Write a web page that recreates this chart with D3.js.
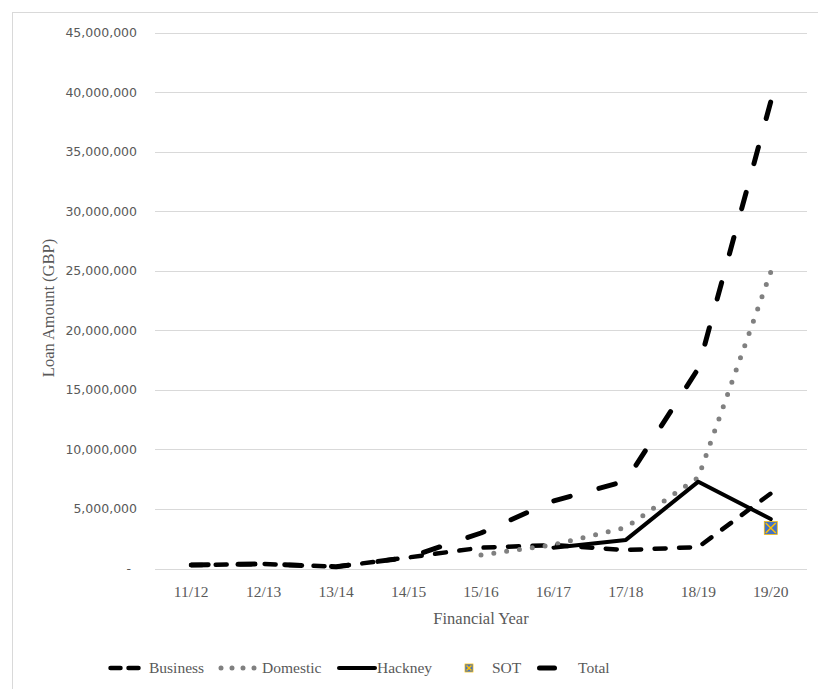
<!DOCTYPE html>
<html>
<head>
<meta charset="utf-8">
<script src="https://cdn.jsdelivr.net/npm/d3@7"></script>
<style>
  body { margin: 0; background: #fff; }
  svg { display: block; }
</style>
</head>
<body>
<svg></svg>
<script>
// financial years on the x axis
const years = ['11/12', '12/13', '13/14', '14/15', '15/16', '16/17', '17/18', '18/19', '19/20'];

// loan amounts (GBP), null = no value
const business = [290000, 380000, 150000, 930000, 1750000, 1970000, 1550000, 1800000, 6300000];
const domestic = [null, null, null, null, 1130000, 2000000, 3450000, 7650000, 24900000];
const hackney  = [null, null, null, null, null, 1750000, 2400000, 7290000, 4150000];
const sot      = [null, null, null, null, null, null, null, null, 3400000];
const total    = [290000, 380000, 150000, 930000, 2980000, 5670000, 7350000, 16800000, 39200000];

const yTicks = [0, 5e6, 10e6, 15e6, 20e6, 25e6, 30e6, 35e6, 40e6, 45e6];

const W = 818, H = 689;
const plot = {l: 155, r: 807, t: 32.5, b: 568.5};

const svg = d3.select('svg')
    .attr('width', W)
    .attr('height', H);

// chart frame (runs off the bottom/right of the picture)
svg.append('rect')
    .attr('x', 12.5).attr('y', 12.5)
    .attr('width', W + 20).attr('height', H + 20)
    .attr('fill', 'none')
    .attr('stroke', '#d9d9d9');

const x = d3.scalePoint()
    .domain(years)
    .range([plot.l, plot.r])
    .padding(0.5);

const y = d3.scaleLinear()
    .domain([0, 45e6])
    .range([plot.b, plot.t]);

// gridlines
svg.append('g')
    .selectAll('line')
    .data(yTicks)
    .join('line')
    .attr('x1', plot.l).attr('x2', plot.r)
    .attr('y1', d => Math.round(y(d)) + 0.5)
    .attr('y2', d => Math.round(y(d)) + 0.5)
    .attr('stroke', '#d9d9d9')
    .attr('stroke-width', 1);

// y tick labels
const fmt = d3.format(',');
svg.append('g')
    .selectAll('text')
    .data(yTicks)
    .join('text')
    .attr('x', d => d === 0 ? 131 : 137)
    .attr('y', d => y(d))
    .attr('dy', '0.36em')
    .attr('text-anchor', 'end')
    .attr('font-family', 'DejaVu Sans, sans-serif')
    .attr('font-size', 12.5)
    .attr('fill', '#595959')
    .text(d => d === 0 ? '-' : fmt(d));

// x tick labels
svg.append('g')
    .selectAll('text')
    .data(years)
    .join('text')
    .attr('x', d => x(d))
    .attr('y', 597)
    .attr('text-anchor', 'middle')
    .attr('font-family', 'Liberation Serif, serif')
    .attr('font-size', 15.5)
    .attr('fill', '#595959')
    .text(d => d);

// axis titles
svg.append('text')
    .attr('x', (plot.l + plot.r) / 2)
    .attr('y', 624)
    .attr('text-anchor', 'middle')
    .attr('font-family', 'Liberation Serif, serif')
    .attr('font-size', 16.5)
    .attr('fill', '#595959')
    .text('Financial Year');

svg.append('text')
    .attr('transform', 'translate(54, 308) rotate(-90)')
    .attr('text-anchor', 'middle')
    .attr('font-family', 'Liberation Serif, serif')
    .attr('font-size', 16.5)
    .attr('fill', '#595959')
    .text('Loan Amount (GBP)');

// series styles: dash = visible dash length (before caps), period = dash + gap
const styles = {
    Business: {color: '#000', width: 4.5, dash: 11, period: 24},
    Domestic: {color: '#808080', width: 5, dash: 0, period: 13},
    Hackney:  {color: '#000', width: 4, dash: null},
    Total:    {color: '#000', width: 5, dash: 17, period: 46}
};

const series = [
    {name: 'Business', values: business},
    {name: 'Domestic', values: domestic},
    {name: 'Hackney', values: hackney},
    {name: 'Total', values: total}
];

const line = d3.line()
    .defined(d => d.v != null)
    .x(d => x(d.year))
    .y(d => y(d.v));

const linesG = svg.append('g');
series.forEach(s => {
    const st = styles[s.name];
    const pts = s.values.map((v, i) => ({year: years[i], v: v}));
    const path = linesG.append('path')
        .datum(pts)
        .attr('fill', 'none')
        .attr('stroke', st.color)
        .attr('stroke-width', st.width)
        .attr('stroke-linecap', 'round')
        .attr('stroke-linejoin', 'round')
        .attr('d', line);
    if (st.dash != null) {
        // stretch the pattern a little so the line finishes on a dash
        const L = path.node().getTotalLength() - 0.5;
        const n = Math.max(1, Math.round((L - st.dash) / st.period));
        const p = (L - st.dash) / n;
        path.attr('stroke-dasharray', `${st.dash},${p - st.dash}`);
    }
    if (s.name === 'Hackney') drawSot();
});

// SOT marker: blue square with yellow cross
function marker(g, cx, cy, s) {
    g.append('rect')
        .attr('x', cx - s / 2).attr('y', cy - s / 2)
        .attr('width', s).attr('height', s)
        .attr('fill', '#4472c4')
        .attr('stroke', '#ffc000')
        .attr('stroke-width', 0.75);
    const k = s / 2 - 1.5;
    g.append('path')
        .attr('d', `M${cx - k},${cy - k}L${cx + k},${cy + k}M${cx + k},${cy - k}L${cx - k},${cy + k}`)
        .attr('stroke', '#ffc000')
        .attr('stroke-width', 1.5)
        .attr('fill', 'none');
}

function drawSot() {
    const g = linesG.append('g');
    sot.forEach((v, i) => {
        if (v == null) return;
        marker(g, x(years[i]), y(v), 13);
    });
}

// legend
const legendY = 668;
const legend = svg.append('g');
const legText = (tx, label) => legend.append('text')
    .attr('x', tx).attr('y', legendY + 5)
    .attr('font-family', 'Liberation Serif, serif')
    .attr('font-size', 15.5)
    .attr('fill', '#595959')
    .text(label);

const legLine = (x1, x2, st, dash) => legend.append('line')
    .attr('x1', x1).attr('x2', x2)
    .attr('y1', legendY).attr('y2', legendY)
    .attr('stroke', st.color)
    .attr('stroke-width', st.width)
    .attr('stroke-linecap', 'round')
    .attr('stroke-dasharray', dash);

legLine(110.5, 138.5, styles.Business, '10,8');
legText(149, 'Business');
legLine(221, 255, styles.Domestic, '0,11');
legText(262, 'Domestic');
legLine(339, 375, styles.Hackney, null);
legText(377, 'Hackney');
marker(legend, 469, legendY, 8);
legText(492, 'SOT');
legLine(539.5, 554.5, styles.Total, null);
legText(578, 'Total');
</script>
</body>
</html>
